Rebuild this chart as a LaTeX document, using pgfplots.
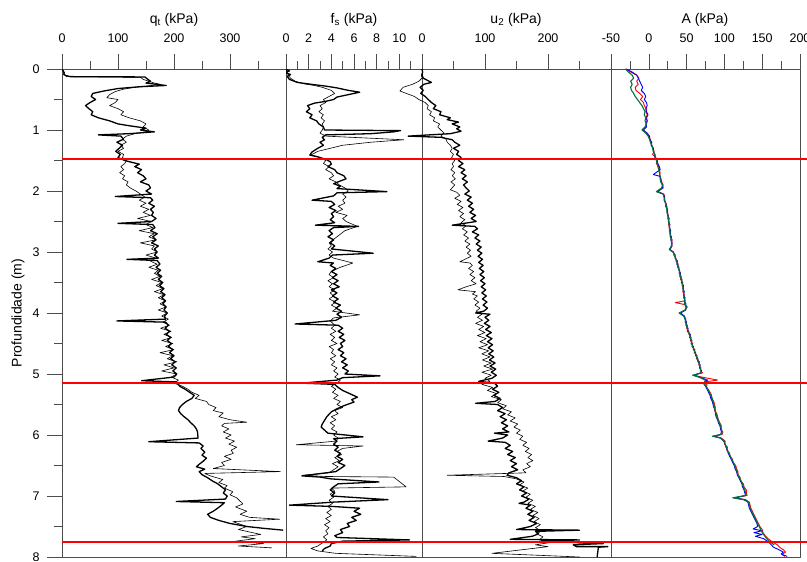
\documentclass[border=0pt]{standalone}
\usepackage{fontspec}
\setmainfont{Liberation Sans}
\usepackage{pgfplots}
\pgfplotsset{compat=1.18}

\definecolor{agreen}{RGB}{0,115,55}
\definecolor{hred}{RGB}{255,0,0}

\pgfplotsset{
  cpt/.style={
    scale only axis, height=488pt,
    ymin=0, ymax=8, y dir=reverse,
    axis line style={black!70}, tick style={black!70, line width=0.6pt},
    major tick length=15pt, minor tick length=8pt, tick align=outside,
    xtick pos=right, xticklabel pos=right, ytick=\empty,
    tick label style={font=\fontsize{12.5}{14}\selectfont},
    xticklabel style={yshift=8pt},
    yticklabel style={xshift=-4pt},
    /pgf/number format/assume math mode=true,
    line join=round,
  },
  thk/.style={black, line width=1.3pt, line join=round},
  thn/.style={black, line width=0.6pt, line join=round},
  redline/.style={draw=hred, line width=2pt},
}

\begin{document}
\begin{tikzpicture}
\useasboundingbox (0,0) rectangle (807pt,562pt);

% q_t
\begin{axis}[cpt, at={(62pt,5pt)}, anchor=south west, width=224pt,
  xmin=0, xmax=400, xtick={0,100,200,300}, minor xtick={50,150,250,350},
  ytick={0,...,8}, minor ytick={0.5,1.5,...,7.5}, ytick pos=left]
\addplot[thn] coordinates {
(0,0) (3,0.05) (5,0.1) (8,0.125) (140,0.137) (145,0.17) (155,0.2) (165,0.23) (175,0.25) (160,0.27) (130,0.3) (110,0.33) (95,0.37) (85,0.42) (80,0.47) (100,0.5) (95,0.55) (85,0.6) (100,0.65) (110,0.7) (105,0.75) (120,0.8) (140,0.85) (150,0.9) (145,0.95) (155,1.0) (150,1.03) (130,1.06) (115,1.1) (108,1.15) (115,1.2) (105,1.25) (110,1.3) (100,1.35) (110,1.4) (108,1.45) (115,1.5) (112,1.55) (105,1.6) (110,1.65) (103,1.7) (112,1.75) (108,1.8) (118,1.85) (115,1.9) (122,1.95) (132,2.0) (140,2.05) (148,2.1) (138,2.15) (150,2.2) (140,2.25) (155,2.3) (145,2.35) (158,2.4) (135,2.45) (160,2.5) (150,2.55) (162,2.6) (138,2.65) (165,2.7) (155,2.75) (168,2.8) (140,2.85) (165,2.9) (160,2.95) (170,3.0) (150,3.05) (168,3.1) (158,3.15) (170,3.2) (155,3.25) (172,3.3) (165,3.35) (175,3.4) (160,3.45) (178,3.5) (168,3.55) (180,3.6) (165,3.65) (182,3.7) (172,3.75) (184,3.8) (175,3.85) (186,3.9) (172,3.95) (188,4.0) (178,4.05) (190,4.1) (180,4.15) (192,4.2) (176,4.25) (195,4.3) (182,4.35) (196,4.4) (178,4.45) (198,4.5) (185,4.55) (200,4.6) (175,4.65) (198,4.7) (188,4.75) (205,4.8) (182,4.85) (200,4.9) (178,4.95) (205,5.0) (195,5.05) (208,5.1) (200,5.15) (215,5.2) (225,5.25) (232,5.3) (245,5.35) (238,5.4) (258,5.45) (262,5.5) (275,5.55) (270,5.6) (288,5.64) (280,5.7) (300,5.75) (330,5.79) (290,5.81) (285,5.85) (298,5.9) (288,5.95) (302,6.0) (292,6.05) (308,6.1) (298,6.15) (312,6.2) (302,6.25) (306,6.3) (290,6.35) (302,6.4) (285,6.45) (290,6.5) (270,6.55) (390,6.6) (255,6.63) (265,6.67) (287,6.73) (280,6.78) (295,6.83) (290,6.87) (305,6.93) (300,6.98) (312,7.03) (323,7.13) (310,7.18) (330,7.25) (318,7.3) (335,7.35) (389,7.38) (305,7.42) (330,7.5) (315,7.55) (340,7.6) (355,7.63) (320,7.67) (345,7.7) (310,7.74) (360,7.78) (315,7.82) (375,7.85)
};
\addplot[thk] coordinates {
(0,0) (2,0.03) (4,0.06) (3,0.09) (8,0.11) (15,0.125) (148,0.13) (152,0.16) (158,0.2) (150,0.23) (186,0.27) (140,0.29) (100,0.32) (75,0.36) (55,0.4) (52,0.45) (60,0.5) (50,0.55) (42,0.6) (48,0.65) (55,0.7) (52,0.75) (65,0.8) (85,0.85) (100,0.9) (120,0.93) (150,0.97) (140,1.0) (165,1.03) (120,1.06) (65,1.08) (105,1.1) (110,1.15) (98,1.2) (108,1.25) (102,1.3) (96,1.35) (104,1.4) (100,1.45) (112,1.5) (125,1.53) (138,1.56) (130,1.6) (142,1.65) (135,1.7) (145,1.75) (150,1.8) (140,1.85) (155,1.9) (158,1.95) (150,2.0) (160,2.05) (95,2.09) (158,2.11) (162,2.15) (155,2.2) (165,2.25) (158,2.3) (163,2.35) (160,2.4) (168,2.45) (160,2.5) (100,2.53) (162,2.55) (166,2.6) (158,2.65) (170,2.7) (162,2.75) (168,2.8) (160,2.85) (172,2.9) (165,2.95) (170,3.0) (165,3.05) (172,3.1) (116,3.12) (170,3.14) (175,3.2) (168,3.25) (176,3.3) (170,3.35) (178,3.4) (172,3.45) (180,3.5) (174,3.55) (182,3.6) (176,3.65) (184,3.7) (178,3.75) (185,3.8) (180,3.85) (186,3.9) (182,3.95) (188,4.0) (183,4.05) (185,4.1) (98,4.13) (185,4.15) (190,4.2) (184,4.25) (192,4.3) (186,4.35) (194,4.4) (188,4.45) (195,4.5) (190,4.55) (198,4.6) (192,4.65) (200,4.7) (194,4.75) (202,4.8) (196,4.85) (204,4.9) (198,4.95) (205,5.0) (200,5.05) (142,5.11) (205,5.13) (210,5.2) (220,5.25) (228,5.3) (236,5.35) (232,5.4) (222,5.45) (215,5.5) (210,5.55) (208,5.6) (212,5.65) (218,5.7) (225,5.75) (230,5.8) (236,5.85) (240,5.9) (242,5.95) (243,6.05) (155,6.11) (245,6.13) (252,6.18) (248,6.22) (255,6.28) (250,6.33) (258,6.38) (252,6.43) (245,6.48) (240,6.52) (255,6.56) (245,6.6) (250,6.65) (260,6.7) (268,6.75) (278,6.8) (285,6.85) (292,6.9) (288,6.95) (295,7.0) (292,7.05) (204,7.09) (290,7.11) (285,7.15) (278,7.2) (270,7.25) (260,7.3) (265,7.35) (280,7.4) (300,7.45) (330,7.5) (360,7.53) (395,7.56)
};
\addplot[redline] coordinates {(0,1.48) (400,1.48)};
\addplot[redline] coordinates {(0,5.14) (400,5.14)};
\addplot[redline] coordinates {(0,7.75) (400,7.75)};
\end{axis}

% f_s
\begin{axis}[cpt, at={(286pt,5pt)}, anchor=south west, width=136pt,
  xmin=0, xmax=12, xtick={0,2,...,10}, minor xtick={1,3,...,11}]
\addplot[thn] coordinates {
(0,0) (0.1,0.05) (0.2,0.1) (0.4,0.15) (0.8,0.2) (1.5,0.24) (2.5,0.27) (3.2,0.3) (4.0,0.35) (4.3,0.4) (3.8,0.45) (3.3,0.5) (3.5,0.55) (3.0,0.6) (3.2,0.65) (2.9,0.7) (3.3,0.75) (3.1,0.8) (3.4,0.85) (3.2,0.9) (3.3,0.95) (3.2,1.0) (3.0,1.05) (3.5,1.1) (10.4,1.16) (7.5,1.2) (5,1.25) (3.9,1.3) (2.8,1.35) (2.2,1.41) (3.0,1.45) (3.5,1.5) (3.3,1.55) (3.8,1.6) (3.5,1.65) (4.0,1.7) (4.2,1.75) (3.8,1.8) (4.4,1.85) (4.7,1.9) (5.2,1.95) (5.5,2.0) (5.0,2.05) (5.3,2.1) (5.0,2.15) (5.2,2.2) (4.6,2.25) (5.0,2.3) (4.4,2.35) (5.4,2.4) (5.0,2.45) (5.3,2.5) (6.3,2.58) (5.2,2.65) (4.5,2.75) (3.8,2.85) (4.0,2.9) (3.7,2.95) (4.1,3.0) (3.8,3.05) (4.2,3.1) (5.9,3.18) (4.8,3.25) (4.0,3.32) (3.8,3.37) (4.2,3.42) (3.7,3.47) (4.1,3.52) (3.8,3.57) (4.3,3.62) (3.9,3.67) (4.2,3.72) (3.8,3.77) (4.4,3.82) (4.0,3.87) (4.5,3.92) (4.1,3.97) (6.5,4.03) (4.2,4.08) (3.9,4.13) (4.3,4.2) (4.0,4.25) (4.4,4.3) (3.9,4.35) (4.3,4.4) (4.0,4.45) (4.5,4.5) (3.8,4.55) (4.2,4.6) (4.0,4.65) (4.4,4.7) (3.9,4.75) (4.3,4.8) (4.0,4.85) (4.5,4.9) (4.2,4.95) (4.6,5.0) (4.3,5.05) (4.8,5.1) (4.5,5.15) (4.0,5.2) (4.4,5.25) (4.1,5.3) (4.6,5.35) (4.2,5.4) (4.8,5.45) (4.5,5.5) (5.0,5.55) (4.3,5.6) (4.6,5.65) (4.0,5.7) (4.4,5.75) (3.9,5.8) (4.3,5.85) (4.0,5.9) (4.5,5.95) (4.2,6.0) (4.6,6.05) (4.4,6.1) (0.9,6.16) (6.8,6.18) (5.0,6.22) (4.5,6.27) (4.9,6.32) (4.3,6.37) (4.7,6.42) (4.1,6.47) (4.6,6.52) (4.2,6.57) (3.8,6.62) (1.5,6.66) (3.5,6.68) (9.5,6.69) (10.6,6.85) (4.0,6.87) (4.3,6.92) (3.9,6.97) (4.2,7.02) (3.8,7.07) (4.1,7.12) (3.7,7.17) (4.0,7.22) (3.6,7.27) (4.0,7.32) (3.5,7.37) (3.9,7.42) (3.4,7.47) (3.8,7.52) (3.5,7.57) (3.7,7.62) (3.3,7.67) (3.6,7.72) (3.2,7.77) (2.8,7.82) (2.2,7.86) (2.8,7.9) (4.4,7.94) (11.5,7.99)
};
\addplot[thk] coordinates {
(0,0) (0.3,0.03) (-0.1,0.06) (0.4,0.09) (0.1,0.12) (0.3,0.17) (1,0.22) (2.2,0.25) (3.5,0.28) (4.5,0.31) (5.5,0.35) (6.5,0.38) (5.5,0.42) (4.5,0.46) (4.2,0.5) (3.5,0.53) (2.5,0.56) (1.9,0.6) (2.1,0.65) (1.8,0.7) (2.3,0.75) (2.1,0.8) (2.7,0.85) (2.9,0.9) (3.3,0.95) (3.4,1.0) (10.1,1.01) (9.5,1.03) (7.5,1.06) (3.5,1.08) (3.2,1.12) (3.4,1.16) (3.0,1.2) (3.3,1.25) (2.8,1.3) (2.3,1.36) (2.1,1.41) (2.8,1.44) (3.5,1.48) (3.9,1.52) (4.0,1.56) (3.7,1.6) (4.3,1.65) (4.5,1.7) (5.1,1.75) (5.3,1.8) (4.6,1.85) (4.2,1.88) (4.8,1.92) (4.5,1.96) (8.9,2.01) (4.5,2.03) (4.2,2.08) (2.3,2.15) (4.0,2.17) (4.3,2.22) (3.8,2.27) (4.4,2.32) (4.0,2.37) (4.2,2.42) (3.9,2.47) (4.3,2.52) (2.6,2.56) (6.4,2.58) (4.2,2.6) (3.8,2.65) (4.1,2.7) (3.7,2.75) (4.2,2.8) (3.9,2.85) (4.3,2.9) (4.0,2.95) (7.7,3.02) (4.1,3.05) (3.8,3.1) (2.8,3.16) (4.2,3.18) (3.9,3.22) (4.4,3.27) (4.0,3.32) (4.5,3.37) (4.1,3.42) (4.6,3.47) (4.2,3.52) (4.7,3.57) (4.0,3.62) (4.5,3.67) (4.1,3.72) (4.6,3.77) (4.2,3.82) (4.8,3.87) (4.4,3.92) (4.9,3.97) (4.5,4.02) (4.9,4.07) (4.4,4.12) (0.8,4.18) (4.6,4.2) (5.0,4.25) (4.6,4.3) (5.1,4.35) (4.7,4.4) (5.2,4.45) (4.8,4.5) (5.0,4.55) (4.6,4.6) (5.1,4.65) (4.8,4.7) (5.3,4.75) (4.9,4.8) (5.4,4.85) (5.0,4.9) (5.5,4.95) (5.2,5.0) (8.3,5.03) (5.0,5.06) (4.5,5.1) (1.4,5.15) (4.3,5.17) (4.6,5.22) (5.0,5.27) (5.6,5.32) (6.3,5.38) (5.8,5.42) (6.0,5.46) (5.1,5.52) (4.5,5.57) (4.0,5.62) (3.6,5.7) (3.4,5.76) (3.2,5.82) (3.1,5.87) (3.4,5.92) (3.7,5.97) (6.8,6.03) (4.2,6.06) (4.5,6.1) (4.2,6.15) (4.6,6.2) (4.3,6.25) (4.8,6.3) (4.5,6.35) (5.0,6.4) (4.6,6.45) (5.2,6.5) (4.8,6.55) (4.4,6.6) (1.4,6.67) (3.0,6.69) (4.0,6.72) (8.2,6.77) (4.6,6.8) (4.2,6.85) (3.9,6.9) (4.3,6.95) (4.0,7.0) (9.0,7.06) (4.2,7.1) (0.3,7.15) (4.0,7.17) (6.5,7.2) (6.0,7.25) (6.6,7.3) (5.8,7.35) (6.2,7.4) (5.4,7.45) (5.6,7.5) (4.8,7.55) (5.0,7.6) (4.3,7.65) (4.5,7.68) (10.9,7.72) (5.0,7.74) (4.0,7.78) (3.9,7.82) (3.4,7.86) (3.2,7.9)
};
\addplot[redline] coordinates {(0,1.48) (12,1.48)};
\addplot[redline] coordinates {(0,5.14) (12,5.14)};
\addplot[redline] coordinates {(0,7.75) (12,7.75)};
\end{axis}

% u_2
\begin{axis}[cpt, at={(422pt,5pt)}, anchor=south west, width=189pt, clip=false,
  xmin=0, xmax=300, xtick={0,100,200}, minor xtick={50,150,250}]
\addplot[thn] coordinates {
(0,0) (1,0.05) (-1,0.1) (0,0.15) (-5,0.2) (-15,0.25) (-30,0.3) (-35,0.36) (-25,0.4) (-12,0.45) (-5,0.5) (5,0.55) (10,0.6) (8,0.65) (15,0.7) (12,0.75) (20,0.8) (18,0.85) (28,0.9) (25,0.95) (30,1.0) (35,1.05) (30,1.1) (38,1.15) (40,1.2) (45,1.25) (48,1.3) (45,1.35) (50,1.4) (47,1.45) (52,1.5) (48,1.55) (50,1.6) (46,1.65) (52,1.7) (48,1.75) (53,1.8) (46,1.85) (52,1.9) (45,1.98) (55,2.02) (60,2.07) (52,2.12) (62,2.17) (56,2.22) (65,2.27) (58,2.32) (66,2.37) (60,2.42) (68,2.47) (62,2.52) (70,2.57) (64,2.62) (72,2.67) (66,2.72) (74,2.77) (68,2.82) (76,2.87) (70,2.92) (77,2.97) (72,3.02) (78,3.07) (60,3.16) (76,3.18) (80,3.22) (74,3.27) (82,3.32) (76,3.37) (84,3.42) (78,3.47) (86,3.52) (70,3.57) (57,3.62) (85,3.65) (80,3.69) (88,3.72) (82,3.77) (90,3.82) (84,3.87) (92,3.92) (86,3.97) (95,4.02) (88,4.07) (96,4.12) (85,4.17) (98,4.22) (90,4.27) (100,4.32) (88,4.37) (102,4.42) (92,4.47) (104,4.52) (90,4.57) (106,4.62) (95,4.67) (108,4.72) (96,4.77) (110,4.82) (98,4.87) (112,4.92) (95,4.97) (110,5.02) (100,5.07) (108,5.12) (95,5.17) (112,5.22) (104,5.27) (118,5.32) (110,5.37) (126,5.42) (120,5.47) (134,5.52) (128,5.57) (142,5.62) (136,5.67) (148,5.72) (140,5.77) (152,5.82) (146,5.87) (156,5.92) (150,5.97) (160,6.02) (155,6.07) (166,6.12) (160,6.17) (170,6.22) (164,6.27) (174,6.32) (168,6.37) (176,6.42) (166,6.47) (172,6.52) (160,6.57) (165,6.62) (40,6.66) (130,6.68) (150,6.72) (162,6.77) (155,6.82) (168,6.87) (160,6.92) (172,6.97) (165,7.02) (176,7.07) (168,7.12) (180,7.17) (172,7.22) (184,7.27) (176,7.32) (186,7.37) (178,7.42) (188,7.47) (180,7.52) (190,7.57) (182,7.62) (192,7.67) (186,7.72) (205,7.76) (180,7.8) (200,7.83) (111,7.94) (250,8.0)
};
\addplot[thk] coordinates {
(0,0) (1,0.05) (0,0.1) (2,0.15) (15,0.22) (3,0.25) (-3,0.3) (2,0.35) (-2,0.4) (5,0.45) (10,0.5) (15,0.55) (22,0.6) (18,0.65) (30,0.7) (28,0.75) (45,0.8) (40,0.83) (58,0.87) (48,0.9) (60,0.95) (55,0.98) (62,1.02) (45,1.06) (-22,1.1) (30,1.12) (48,1.16) (52,1.2) (60,1.25) (50,1.3) (58,1.35) (55,1.4) (62,1.45) (58,1.5) (65,1.55) (58,1.6) (68,1.65) (62,1.7) (70,1.75) (64,1.8) (72,1.85) (66,1.9) (70,1.95) (75,2.0) (68,2.05) (78,2.1) (72,2.15) (80,2.2) (74,2.25) (82,2.3) (76,2.35) (85,2.4) (78,2.45) (86,2.5) (48,2.56) (84,2.58) (88,2.62) (80,2.67) (90,2.72) (84,2.77) (92,2.82) (86,2.87) (94,2.92) (88,2.97) (95,3.02) (89,3.07) (96,3.12) (90,3.17) (97,3.22) (91,3.27) (98,3.32) (92,3.37) (99,3.42) (93,3.47) (100,3.52) (94,3.57) (101,3.62) (95,3.67) (102,3.72) (96,3.77) (103,3.82) (97,3.87) (104,3.92) (98,3.97) (85,4.0) (108,4.02) (100,4.07) (106,4.12) (99,4.17) (108,4.22) (101,4.27) (110,4.32) (102,4.37) (111,4.42) (104,4.47) (112,4.52) (105,4.57) (113,4.62) (106,4.67) (114,4.72) (107,4.77) (116,4.82) (108,4.87) (117,4.92) (110,4.97) (118,5.02) (111,5.07) (90,5.12) (115,5.15) (120,5.2) (112,5.25) (122,5.3) (114,5.35) (124,5.4) (116,5.45) (85,5.48) (120,5.5) (128,5.55) (120,5.6) (132,5.65) (124,5.7) (134,5.75) (126,5.8) (136,5.85) (128,5.9) (138,5.95) (115,5.97) (136,6.0) (128,6.05) (105,6.1) (132,6.12) (140,6.17) (132,6.22) (144,6.27) (136,6.32) (148,6.37) (140,6.42) (150,6.47) (142,6.52) (152,6.57) (138,6.62) (135,6.66) (150,6.7) (158,6.75) (150,6.8) (162,6.85) (155,6.9) (166,6.95) (158,7.0) (170,7.05) (162,7.1) (154,7.12) (172,7.15) (165,7.2) (176,7.25) (168,7.3) (178,7.35) (170,7.4) (182,7.45) (172,7.5) (150,7.55) (250,7.56) (180,7.58) (185,7.62) (175,7.66) (140,7.71) (250,7.72) (190,7.74) (288,7.78) (240,7.8) (245,7.83) (295,7.83) (280,7.84) (278,8.0)
};
\addplot[redline] coordinates {(0,1.48) (300,1.48)};
\addplot[redline] coordinates {(0,5.14) (300,5.14)};
\addplot[redline] coordinates {(0,7.75) (300,7.75)};
\end{axis}

% A
\begin{axis}[cpt, at={(611pt,5pt)}, anchor=south west, width=189pt, clip=false,
  xmin=-50, xmax=200, xtick={-50,0,...,200}, minor xtick={-25,25,...,175}]
\addplot[draw=hred, line width=0.9pt] coordinates {
(-30,0) (-24,0.05) (-16,0.1) (-13,0.15) (-16,0.2) (-14,0.25) (-18,0.3) (-17,0.35) (-12,0.4) (-8,0.45) (-11,0.5) (-7,0.55) (-6,0.6) (-3,0.65) (-4,0.7) (-2,0.75) (-4,0.8) (-2,0.85) (-3,0.9) (-4,0.95) (-8,1.0) (-2,1.05) (0,1.1) (2,1.15) (3,1.2) (4,1.25) (6,1.3) (7,1.35) (5,1.4) (9,1.45) (11,1.5) (10,1.55) (13,1.6) (14,1.65) (15,1.7) (14,1.75) (16,1.8) (17,1.85) (19,1.9) (18,1.95) (12,2.01) (20,2.05) (21,2.1) (20,2.15) (23,2.2) (22,2.25) (25,2.3) (24,2.35) (26,2.4) (25,2.45) (27,2.5) (26,2.55) (28,2.6) (27,2.65) (29,2.7) (28,2.75) (31,2.8) (30,2.85) (31,2.9) (28,2.96) (33,3.0) (33,3.05) (36,3.1) (36,3.15) (39,3.2) (38,3.25) (41,3.3) (40,3.35) (43,3.4) (42,3.45) (45,3.5) (44,3.55) (46,3.6) (45,3.65) (47,3.7) (46,3.75) (48,3.8) (35,3.83) (47,3.86) (51,3.9) (48,3.95) (41,4.0) (47,4.05) (49,4.1) (48,4.15) (51,4.2) (50,4.25) (53,4.3) (53,4.35) (56,4.4) (55,4.45) (58,4.5) (57,4.55) (61,4.6) (60,4.65) (64,4.7) (63,4.75) (67,4.8) (66,4.85) (69,4.9) (68,4.95) (71,4.98) (59,5.02) (70,5.05) (91,5.1) (74,5.13) (77,5.18) (76,5.22) (79,5.26) (81,5.3) (83,5.35) (83,5.4) (86,5.45) (87,5.5) (88,5.55) (87,5.6) (90,5.65) (91,5.7) (92,5.75) (94,5.8) (96,5.85) (95,5.9) (98,5.95) (97,5.99) (86,6.02) (96,6.05) (101,6.1) (100,6.15) (104,6.2) (103,6.25) (107,6.3) (107,6.35) (111,6.4) (111,6.45) (115,6.5) (116,6.55) (118,6.6) (118,6.65) (121,6.7) (121,6.75) (125,6.8) (126,6.85) (129,6.9) (129,6.95) (130,6.99) (114,7.03) (128,7.06) (133,7.1) (134,7.15) (135,7.2) (137,7.25) (139,7.3) (141,7.35) (143,7.4) (145,7.45) (147,7.5) (150,7.55) (151,7.6) (154,7.65) (158,7.7) (163,7.75) (170,7.8) (174,7.85) (178,7.88) (181,7.92) (176,7.96) (180,7.99)
};
\addplot[blue, line width=0.9pt] coordinates {
(-30,0) (-22,0.05) (-16,0.1) (-14,0.15) (-12,0.2) (-10,0.25) (-8,0.3) (-10,0.35) (-6,0.4) (-4,0.45) (-6,0.5) (-3,0.55) (-2,0.6) (-4,0.65) (-3,0.7) (-1,0.75) (-3,0.8) (-2,0.85) (-4,0.9) (-3,0.95) (-7,1.0) (-3,1.05) (1,1.1) (1,1.15) (4,1.2) (3,1.25) (6,1.3) (6,1.35) (8,1.4) (8,1.45) (11,1.5) (12,1.55) (14,1.6) (15,1.65) (6,1.73) (15,1.76) (16,1.8) (16,1.85) (18,1.9) (19,1.95) (11,2.01) (19,2.05) (21,2.1) (21,2.15) (22,2.2) (24,2.25) (24,2.3) (25,2.35) (25,2.4) (27,2.45) (26,2.5) (28,2.55) (27,2.6) (29,2.65) (28,2.7) (30,2.75) (29,2.8) (31,2.85) (30,2.9) (28,2.96) (32,3.0) (35,3.05) (35,3.1) (38,3.15) (37,3.2) (40,3.25) (40,3.3) (42,3.35) (41,3.4) (44,3.45) (43,3.5) (46,3.55) (45,3.6) (47,3.65) (46,3.7) (48,3.75) (47,3.8) (49,3.85) (49,3.9) (49,3.95) (42,4.0) (47,4.05) (48,4.1) (50,4.15) (49,4.2) (52,4.25) (51,4.3) (55,4.35) (54,4.4) (57,4.45) (56,4.5) (59,4.55) (59,4.6) (62,4.65) (62,4.7) (65,4.75) (65,4.8) (68,4.85) (67,4.9) (70,4.95) (69,4.98) (60,5.02) (67,5.05) (78,5.1) (72,5.15) (75,5.2) (77,5.25) (79,5.3) (81,5.35) (82,5.4) (84,5.45) (85,5.5) (86,5.55) (88,5.6) (88,5.65) (89,5.7) (91,5.75) (92,5.8) (94,5.85) (95,5.9) (96,5.95) (95,5.99) (86,6.02) (95,6.05) (99,6.1) (101,6.15) (102,6.2) (104,6.25) (105,6.3) (107,6.35) (109,6.4) (111,6.45) (113,6.5) (114,6.55) (116,6.6) (117,6.65) (119,6.7) (121,6.75) (123,6.8) (124,6.85) (126,6.9) (127,6.95) (128,6.99) (113,7.03) (127,7.06) (131,7.1) (132,7.15) (133,7.2) (135,7.25) (137,7.3) (139,7.35) (141,7.4) (143,7.45) (144,7.5) (138,7.54) (150,7.57) (139,7.6) (150,7.63) (141,7.66) (152,7.7) (158,7.75) (162,7.8) (165,7.84) (172,7.88) (178,7.92) (175,7.95) (183,7.99)
};
\addplot[agreen, line width=1.1pt] coordinates {
(-31,0) (-27,0.05) (-22,0.1) (-20,0.15) (-24,0.2) (-22,0.25) (-24,0.3) (-23,0.35) (-20,0.4) (-18,0.45) (-15,0.5) (-12,0.55) (-9,0.6) (-7,0.65) (-5,0.7) (-6,0.75) (-4,0.8) (-5,0.85) (-3,0.9) (-5,0.95) (-9,1.0) (-4,1.05) (-1,1.1) (1,1.15) (2,1.2) (4,1.25) (5,1.3) (6,1.35) (8,1.4) (9,1.45) (10,1.5) (11,1.55) (12,1.6) (13,1.65) (14,1.7) (15,1.75) (15,1.8) (16,1.85) (18,1.9) (17,1.95) (10,2.01) (19,2.05) (20,2.1) (21,2.15) (22,2.2) (23,2.25) (24,2.3) (24,2.35) (25,2.4) (26,2.45) (26,2.5) (27,2.55) (27,2.6) (28,2.65) (28,2.7) (29,2.75) (30,2.8) (30,2.85) (30,2.9) (27,2.96) (32,3.0) (34,3.05) (35,3.1) (37,3.15) (38,3.2) (39,3.25) (40,3.3) (41,3.35) (42,3.4) (43,3.45) (44,3.5) (45,3.55) (45,3.6) (46,3.65) (46,3.7) (47,3.75) (48,3.8) (47,3.85) (50,3.9) (48,3.95) (40,4.0) (46,4.05) (48,4.1) (49,4.15) (50,4.2) (51,4.25) (52,4.3) (54,4.35) (55,4.4) (56,4.45) (57,4.5) (58,4.55) (60,4.6) (61,4.65) (63,4.7) (64,4.75) (66,4.8) (67,4.85) (68,4.9) (69,4.95) (70,4.98) (58,5.02) (66,5.05) (75,5.1) (73,5.15) (76,5.2) (78,5.25) (80,5.3) (82,5.35) (84,5.4) (85,5.45) (86,5.5) (87,5.55) (88,5.6) (89,5.65) (90,5.7) (92,5.75) (93,5.8) (95,5.85) (96,5.9) (97,5.95) (96,5.99) (84,6.02) (95,6.05) (100,6.1) (101,6.15) (103,6.2) (104,6.25) (106,6.3) (108,6.35) (110,6.4) (112,6.45) (114,6.5) (115,6.55) (117,6.6) (118,6.65) (120,6.7) (122,6.75) (124,6.8) (125,6.85) (127,6.9) (128,6.95) (129,6.99) (111,7.03) (125,7.06) (132,7.1) (133,7.15) (134,7.2) (136,7.25) (138,7.3) (140,7.35) (142,7.4) (144,7.45) (146,7.5) (148,7.55) (150,7.6) (153,7.65) (156,7.7) (160,7.75) (166,7.8)
};
\addplot[redline] coordinates {(-50,1.48) (211,1.48)};
\addplot[redline] coordinates {(-50,5.14) (211,5.14)};
\addplot[redline] coordinates {(-50,7.75) (211,7.75)};
\end{axis}

\node[anchor=base, font=\fontsize{14}{16}\selectfont] at (174pt,538.5pt) {q\textsubscript{t} (kPa)};
\node[anchor=base, font=\fontsize{14}{16}\selectfont] at (354pt,538.5pt) {f\textsubscript{s} (kPa)};
\node[anchor=base, font=\fontsize{14}{16}\selectfont] at (516pt,538.5pt) {u\textsubscript{2} (kPa)};
\node[anchor=base, font=\fontsize{14}{16}\selectfont] at (705pt,538.5pt) {A (kPa)};
\node[rotate=90, anchor=center, font=\fontsize{14}{16}\selectfont] at (18pt,249pt) {Profundidade (m)};
\end{tikzpicture}
\end{document}
